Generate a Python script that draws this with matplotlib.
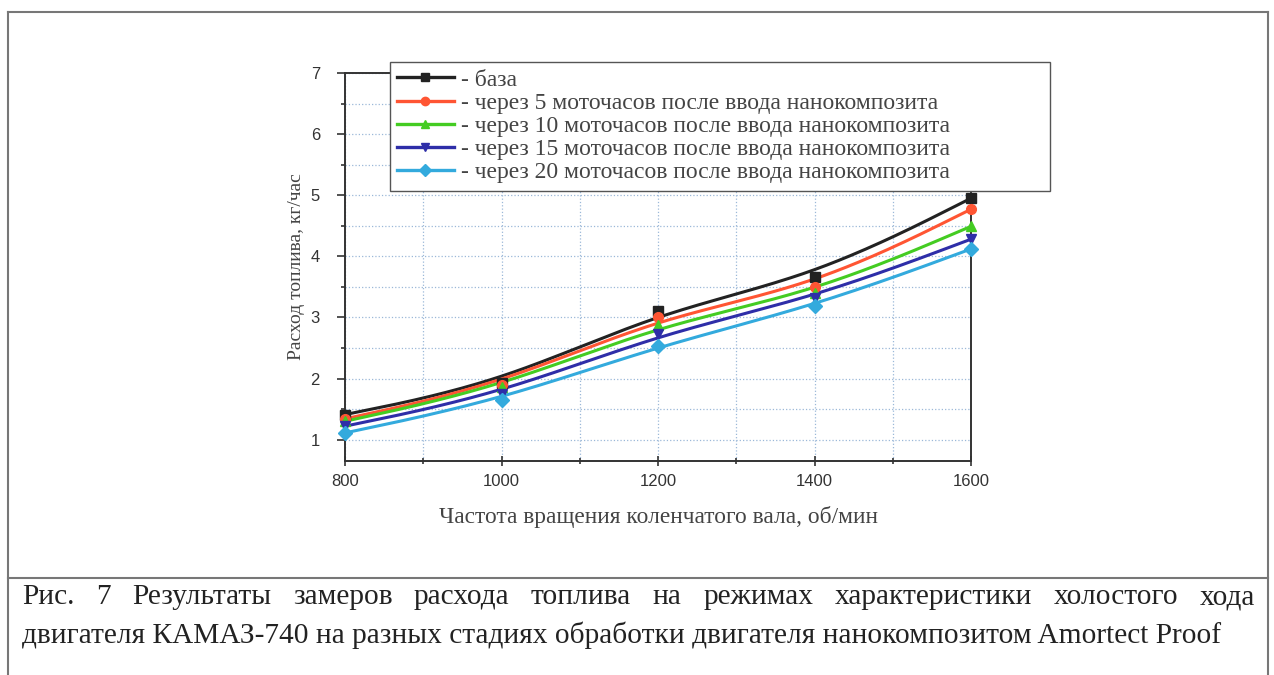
import numpy as np
import matplotlib
matplotlib.use('Agg')
from matplotlib import pyplot as plt
from matplotlib.lines import Line2D

rpm = [800, 1000, 1200, 1400, 1600]
base = [1.41, 1.93, 3.10, 3.66, 4.95]
h5 = [1.34, 1.90, 3.01, 3.50, 4.77]
h10 = [1.30, 1.86, 2.88, 3.40, 4.49]
h15 = [1.22, 1.75, 2.73, 3.32, 4.28]
h20 = [1.11, 1.65, 2.54, 3.18, 4.12]

labels = ['- база',
          '- через 5 моточасов после ввода нанокомпозита',
          '- через 10 моточасов после ввода нанокомпозита',
          '- через 15 моточасов после ввода нанокомпозита',
          '- через 20 моточасов после ввода нанокомпозита']
colors = ['#222222', '#ff5533', '#44cc22', '#2e2ea8', '#33aadd']
markers = ['s', 'o', '^', 'v', 'D']

caption1 = ['Рис.', '7', 'Результаты', 'замеров', 'расхода', 'топлива', 'на',
            'режимах', 'характеристики', 'холостого', 'хода']
caption2 = 'двигателя КАМАЗ-740 на разных стадиях обработки двигателя нанокомпозитом Amortect Proof'


def bspline(xs, ys, n=40):
    # uniform cubic B-spline, ends repeated so the curve starts/ends on the points
    px = np.r_[xs[0], xs[0], xs, xs[-1], xs[-1]].astype(float)
    py = np.r_[ys[0], ys[0], ys, ys[-1], ys[-1]].astype(float)
    t = np.linspace(0, 1, n)
    b0 = (1 - t) ** 3 / 6
    b1 = (3 * t ** 3 - 6 * t ** 2 + 4) / 6
    b2 = (-3 * t ** 3 + 3 * t ** 2 + 3 * t + 1) / 6
    b3 = t ** 3 / 6
    ox, oy = [], []
    for i in range(len(px) - 3):
        ox.append(b0 * px[i] + b1 * px[i + 1] + b2 * px[i + 2] + b3 * px[i + 3])
        oy.append(b0 * py[i] + b1 * py[i + 1] + b2 * py[i + 2] + b3 * py[i + 3])
    return np.concatenate(ox), np.concatenate(oy)


fig = plt.figure(figsize=(12.74, 6.75), dpi=100)
ax = fig.add_axes([0.2708, 0.317, 0.4914, 0.5749])

series = [base, h5, h10, h15, h20]
handles = []
for vals, c, m, lab in zip(series, colors, markers, labels):
    sx, sy = bspline(rpm, vals)
    ax.plot(sx, sy, color=c, lw=2.2, zorder=3)
    ax.plot(rpm, vals, ls='none', marker=m, ms=7, color=c, zorder=4, clip_on=False)
    handles.append(Line2D([], [], color=c, lw=2.4, marker=m, ms=6, label=lab))

ax.set_xlim(800, 1600)
ax.set_ylim(0.65, 7)
ax.set_xticks([800, 1000, 1200, 1400, 1600])
ax.set_xticks([900, 1100, 1300, 1500], minor=True)
ax.set_yticks([1, 2, 3, 4, 5, 6, 7])
ax.set_yticks(np.arange(1.5, 7, 1.0), minor=True)
ax.grid(True, which='both', color='#9bb8d8', ls=':', lw=0.9)
for s in ax.spines.values():
    s.set_color('#333333')
    s.set_linewidth(1.4)
ax.tick_params(axis='y', which='both', direction='out', length=6, width=1.2, colors='#333333',
               labelsize=12, pad=12)
ax.tick_params(axis='y', which='minor', length=3)
ax.tick_params(axis='x', which='both', direction='inout', length=7, width=1.2, colors='#333333',
               labelsize=12, pad=6)
ax.tick_params(axis='x', which='minor', length=4)
for lab in ax.get_xticklabels() + ax.get_yticklabels():
    lab.set_family('Liberation Sans')

ax.set_xlabel('Частота вращения коленчатого вала, об/мин', family='Liberation Serif',
              fontsize=16.8, color='#444444', labelpad=12)
ax.set_ylabel('Расход топлива, кг/час', family='Liberation Serif',
              fontsize=14, color='#444444', labelpad=4)

leg = fig.legend(handles=handles, loc='upper left',
                 bbox_to_anchor=(0.306, 0.7185, 0.518, 0.1895), mode='expand',
                 prop={'family': 'Liberation Serif', 'size': 17}, frameon=True, framealpha=1,
                 fancybox=False, edgecolor='#555555', handlelength=2.4, handletextpad=0.3,
                 labelspacing=0.07, borderpad=0.3, borderaxespad=0)
for t in leg.get_texts():
    t.set_color('#444444')
leg.get_frame().set_linewidth(1.0)

# outer frame and caption separator
frame_kw = dict(color='#777777', lw=1.5, transform=fig.transFigure)
fig.add_artist(Line2D([0.0063, 0.0063], [0.0, 0.9822], **frame_kw))
fig.add_artist(Line2D([0.9953, 0.9953], [0.0, 0.9822], **frame_kw))
fig.add_artist(Line2D([0.0063, 0.9953], [0.9822, 0.9822], **frame_kw))
fig.add_artist(Line2D([0.0063, 0.9953], [0.1437, 0.1437], **frame_kw))

cap_kw = dict(family='Liberation Serif', fontsize=21.2, color='#222222', va='center')
# justified first caption line
fig.canvas.draw()
r = fig.canvas.get_renderer()
words = [fig.text(0, 1 - 597 / 675, w, **cap_kw) for w in caption1]
widths = [w.get_window_extent(r).width for w in words]
x0, x1 = 22, 1255
gap = (x1 - x0 - sum(widths)) / (len(words) - 1)
x = x0
for w, wd in zip(words, widths):
    w.set_x(x / 1274)
    x += wd + gap
fig.text(22 / 1274, 1 - 635 / 675, caption2, **cap_kw)

fig.savefig('out.png', dpi=100)
